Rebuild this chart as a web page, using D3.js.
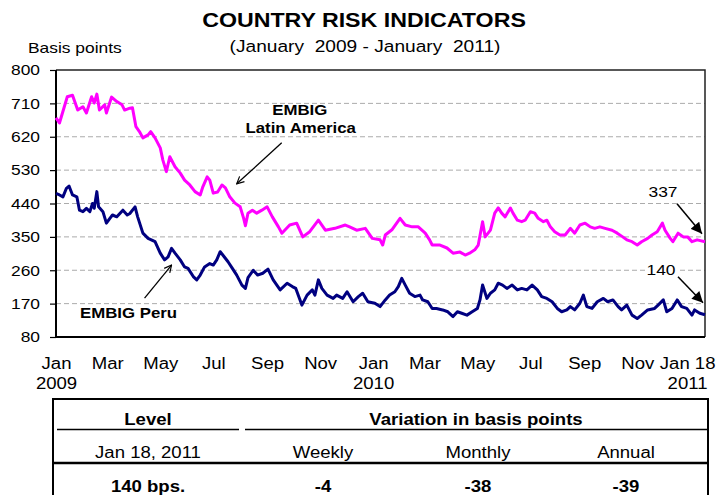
<!DOCTYPE html>
<html>
<head>
<meta charset="utf-8">
<script src="https://cdn.jsdelivr.net/npm/d3@7"></script>
<style>
  body { margin: 0; background: #fff; }
  svg { display: block; font-family: 'Liberation Sans', Arial, sans-serif; }
</style>
</head>
<body>
<div id="chart"></div>
<script>
// EMBIG Latin America (basis points)
const latamDates = [
  '2009-01-01', '2009-01-05', '2009-01-14', '2009-01-20', '2009-01-26', '2009-02-01', '2009-02-05', '2009-02-11',
  '2009-02-14', '2009-02-17', '2009-02-20', '2009-02-26', '2009-02-28', '2009-03-06', '2009-03-12', '2009-03-18',
  '2009-03-21', '2009-03-27', '2009-03-30', '2009-04-03', '2009-04-07', '2009-04-11', '2009-04-17', '2009-04-20',
  '2009-04-25', '2009-05-01', '2009-05-04', '2009-05-08', '2009-05-12', '2009-05-18', '2009-05-24', '2009-05-29',
  '2009-06-04', '2009-06-10', '2009-06-16', '2009-06-19', '2009-06-24', '2009-06-27', '2009-07-01', '2009-07-06',
  '2009-07-11', '2009-07-15', '2009-07-20', '2009-07-26', '2009-08-01', '2009-08-05', '2009-08-07', '2009-08-10',
  '2009-08-15', '2009-08-20', '2009-08-26', '2009-09-01', '2009-09-07', '2009-09-14', '2009-09-18', '2009-09-27',
  '2009-10-05', '2009-10-12', '2009-10-20', '2009-10-30', '2009-11-07', '2009-11-18', '2009-11-30', '2009-12-05',
  '2009-12-13', '2009-12-23', '2009-12-31', '2010-01-09', '2010-01-12', '2010-01-15', '2010-01-23', '2010-02-01',
  '2010-02-07', '2010-02-15', '2010-02-22', '2010-03-02', '2010-03-07', '2010-03-10', '2010-03-19', '2010-03-27',
  '2010-04-03', '2010-04-11', '2010-04-17', '2010-04-22', '2010-04-28', '2010-05-02', '2010-05-07', '2010-05-10',
  '2010-05-16', '2010-05-21', '2010-05-25', '2010-05-29', '2010-06-02', '2010-06-08', '2010-06-11', '2010-06-16',
  '2010-06-21', '2010-06-25', '2010-07-01', '2010-07-06', '2010-07-10', '2010-07-16', '2010-07-20', '2010-07-24',
  '2010-07-29', '2010-08-04', '2010-08-10', '2010-08-16', '2010-08-21', '2010-08-27', '2010-09-02', '2010-09-08',
  '2010-09-13', '2010-09-19', '2010-09-25', '2010-10-03', '2010-10-09', '2010-10-14', '2010-10-20', '2010-10-26',
  '2010-11-01', '2010-11-06', '2010-11-13', '2010-11-18', '2010-11-24', '2010-11-30', '2010-12-03', '2010-12-09',
  '2010-12-12', '2010-12-18', '2010-12-24', '2010-12-29', '2011-01-03', '2011-01-09', '2011-01-18'
];
const latamValues = [
  671, 657, 728, 732, 692, 701, 684, 728,
  711, 735, 692, 706, 684, 727, 715, 706,
  692, 697, 698, 647, 634, 617, 625, 634,
  617, 590, 557, 526, 566, 539, 522, 503,
  490, 472, 463, 485, 512, 503, 468, 471,
  490, 482, 458, 441, 431, 400, 380, 414,
  422, 414, 422, 431, 404, 377, 360, 382,
  387, 350, 364, 395, 368, 373, 382, 377,
  368, 373, 346, 342, 328, 355, 370, 400,
  382, 377, 377, 360, 342, 328, 328, 320,
  306, 309, 301, 306, 315, 328, 391, 350,
  368, 414, 428, 414, 404, 428, 414, 395,
  391, 395, 418, 414, 400, 391, 395, 377,
  364, 355, 355, 373, 360, 382, 387, 377,
  373, 377, 373, 368, 360, 352, 342, 337,
  328, 337, 346, 355, 364, 387, 368, 346,
  337, 360, 350, 350, 337, 342, 337
];

// EMBIG Peru (basis points)
const peruDates = [
  '2009-01-01', '2009-01-05', '2009-01-09', '2009-01-13', '2009-01-16', '2009-01-20', '2009-01-25', '2009-01-28',
  '2009-02-01', '2009-02-05', '2009-02-09', '2009-02-12', '2009-02-14', '2009-02-17', '2009-02-19', '2009-02-24',
  '2009-02-28', '2009-03-04', '2009-03-07', '2009-03-12', '2009-03-19', '2009-03-24', '2009-03-27', '2009-04-02',
  '2009-04-05', '2009-04-11', '2009-04-17', '2009-04-25', '2009-05-01', '2009-05-06', '2009-05-10', '2009-05-14',
  '2009-05-18', '2009-05-24', '2009-05-29', '2009-06-02', '2009-06-08', '2009-06-12', '2009-06-16', '2009-06-21',
  '2009-06-27', '2009-07-01', '2009-07-05', '2009-07-09', '2009-07-12', '2009-07-18', '2009-07-23', '2009-07-28',
  '2009-08-03', '2009-08-07', '2009-08-10', '2009-08-16', '2009-08-21', '2009-08-27', '2009-09-02', '2009-09-08',
  '2009-09-16', '2009-09-24', '2009-09-30', '2009-10-04', '2009-10-11', '2009-10-17', '2009-10-23', '2009-10-26',
  '2009-10-30', '2009-11-03', '2009-11-09', '2009-11-16', '2009-11-20', '2009-11-27', '2009-12-02', '2009-12-09',
  '2009-12-15', '2009-12-20', '2009-12-26', '2010-01-03', '2010-01-09', '2010-01-15', '2010-01-20', '2010-01-26',
  '2010-01-30', '2010-02-03', '2010-02-07', '2010-02-12', '2010-02-18', '2010-02-24', '2010-02-27', '2010-03-05',
  '2010-03-10', '2010-03-15', '2010-03-22', '2010-03-28', '2010-04-03', '2010-04-08', '2010-04-13', '2010-04-19',
  '2010-04-25', '2010-05-01', '2010-05-04', '2010-05-07', '2010-05-12', '2010-05-16', '2010-05-21', '2010-05-25',
  '2010-05-30', '2010-06-04', '2010-06-10', '2010-06-16', '2010-06-21', '2010-06-27', '2010-07-03', '2010-07-09',
  '2010-07-14', '2010-07-20', '2010-07-26', '2010-08-01', '2010-08-06', '2010-08-12', '2010-08-16', '2010-08-21',
  '2010-08-27', '2010-08-31', '2010-09-04', '2010-09-10', '2010-09-16', '2010-09-23', '2010-09-28', '2010-10-04',
  '2010-10-10', '2010-10-14', '2010-10-20', '2010-10-26', '2010-11-01', '2010-11-06', '2010-11-13', '2010-11-21',
  '2010-11-25', '2010-12-01', '2010-12-05', '2010-12-11', '2010-12-17', '2010-12-22', '2010-12-28', '2011-01-03',
  '2011-01-06', '2011-01-12', '2011-01-18'
];
const peruValues = [
  467, 463, 458, 481, 487, 463, 458, 422,
  418, 427, 418, 440, 427, 472, 431, 418,
  387, 400, 409, 404, 422, 409, 413, 431,
  404, 360, 346, 337, 306, 288, 296, 319,
  306, 288, 269, 265, 243, 234, 247, 269,
  278, 274, 288, 310, 301, 283, 265, 247,
  220, 211, 240, 260, 247, 252, 263, 234,
  207, 225, 216, 211, 166, 193, 207, 193,
  234, 211, 193, 184, 193, 184, 202, 175,
  189, 198, 175, 171, 162, 180, 193, 202,
  216, 238, 220, 198, 189, 193, 180, 175,
  157, 157, 153, 148, 135, 148, 144, 139,
  148, 157, 180, 220, 184, 198, 207, 225,
  220, 211, 220, 207, 211, 207, 220, 207,
  189, 184, 175, 157, 148, 153, 162, 153,
  171, 193, 162, 157, 175, 184, 175, 180,
  162, 153, 166, 139, 130, 139, 153, 157,
  166, 180, 148, 157, 180, 162, 157, 139,
  153, 144, 140
];

const yTicks = [80, 170, 260, 350, 440, 530, 620, 710, 800];
const xTickDates = [
  '2009-01-01', '2009-03-01', '2009-05-01', '2009-07-01', '2009-09-01', '2009-11-01', '2010-01-01',
  '2010-03-01', '2010-05-01', '2010-07-01', '2010-09-01', '2010-11-01', '2011-01-18'
];
const xTickMonths = ['Jan', 'Mar', 'May', 'Jul', 'Sep', 'Nov', 'Jan', 'Mar', 'May', 'Jul', 'Sep', 'Nov', 'Jan 18'];
const xTickYears = ['2009', '', '', '', '', '', '2010', '', '', '', '', '', '2011'];

const tableHeader = ['Level', 'Variation in basis points'];
const tableSubhead = ['Jan 18, 2011', 'Weekly', 'Monthly', 'Annual'];
const tableValues = ['140 bps.', '-4', '-38', '-39'];

const Chart = {
  init() {
    this.wrapper = document.querySelector('#chart');

    if (this.wrapper) {
      this.setVar();
      this.create();
      this.scales();
      this.axis();
      this.createPaths();
      this.createLabels();
      this.createTable();
    }
  },

  setVar() {
    // Colors
    this.pink = '#ff00ff';
    this.navy = '#000080';

    // the source image is a bit wider than tall, so text gets stretched
    this.stretch = 1.16;

    this.margin = {
      left: 56,
      right: 23,
      top: 70,
      bottom: 158,
    };

    this.svgWidth = 728;
    this.svgHeight = 495;
    this.width = this.svgWidth - this.margin.left - this.margin.right;
    this.height = this.svgHeight - this.margin.top - this.margin.bottom;

    const parse = d3.timeParse('%Y-%m-%d');
    this.latam = latamDates.map((d, i) => ({ date: parse(d), value: latamValues[i] }));
    this.peru = peruDates.map((d, i) => ({ date: parse(d), value: peruValues[i] }));
    this.tickDates = xTickDates.map(parse);
  },

  // text with the horizontal stretch of the original picture
  addText(parent, x, y, str, size, weight, anchor) {
    return parent.append('text')
      .attr('transform', `translate(${x} ${y}) scale(${this.stretch} 1)`)
      .attr('font-size', size)
      .attr('font-weight', weight || 'normal')
      .attr('text-anchor', anchor || 'middle')
      .attr('fill', '#000')
      .text(str);
  },

  stretchAxisText(sel, dx) {
    const k = this.stretch;
    sel.each(function () {
      const t = d3.select(this);
      const x = (+t.attr('x') || 0) + (dx || 0);
      const y = +t.attr('y') || 0;
      t.attr('x', null).attr('y', null)
        .attr('transform', `translate(${x} ${y}) scale(${k} 1)`);
    });
  },

  create() {
    this.svg = d3.select('#chart').append('svg')
      .attr('width', this.svgWidth)
      .attr('height', this.svgHeight);

    this.svg.append('rect')
      .attr('width', this.svgWidth)
      .attr('height', this.svgHeight)
      .attr('fill', '#fff');

    this.defs = this.svg.append('defs');

    this.defs.append('marker')
      .attr('id', 'arrow-open')
      .attr('viewBox', '0 0 10 10')
      .attr('refX', 9)
      .attr('refY', 5)
      .attr('markerWidth', 9)
      .attr('markerHeight', 9)
      .attr('markerUnits', 'userSpaceOnUse')
      .attr('orient', 'auto')
      .append('path')
      .attr('d', 'M1,1 L9,5 L1,9')
      .attr('fill', 'none')
      .attr('stroke', '#000')
      .attr('stroke-width', 1.3);

    this.defs.append('marker')
      .attr('id', 'arrow-fill')
      .attr('viewBox', '0 0 10 10')
      .attr('refX', 10)
      .attr('refY', 5)
      .attr('markerWidth', 12)
      .attr('markerHeight', 11)
      .attr('markerUnits', 'userSpaceOnUse')
      .attr('orient', 'auto')
      .append('path')
      .attr('d', 'M0,0 L10,5 L0,10 Z')
      .attr('fill', '#000');

    this.g = this.svg.append('g')
      .attr('transform', `translate(${this.margin.left} ${this.margin.top})`);

    // Titles
    this.addText(this.svg, 364, 27, 'COUNTRY RISK INDICATORS', 20, 'bold');
    this.addText(this.svg, 365, 52, '(January  2009 - January  2011)', 16.5)
      .attr('xml:space', 'preserve')
      .style('white-space', 'pre');
    this.addText(this.svg, 28, 53, 'Basis points', 15, 'normal', 'start');
  },

  scales() {
    this.y = d3.scaleLinear()
      .domain([80, 800])
      .range([this.height, 0]);

    this.x = d3.scaleTime()
      .domain([this.tickDates[0], this.tickDates[this.tickDates.length - 1]])
      .range([0, this.width]);
  },

  axis() {
    // Grid
    this.g.append('g')
      .selectAll('line')
      .data(yTicks.slice(1, -1))
      .join('line')
      .attr('x1', 0)
      .attr('x2', this.width)
      .attr('y1', (d) => this.y(d))
      .attr('y2', (d) => this.y(d))
      .attr('stroke', '#ababab')
      .attr('stroke-width', 1)
      .attr('stroke-dasharray', '5 3');

    // Frame top and right
    this.g.append('path')
      .attr('d', `M0,${this.y(800)}H${this.width}V${this.height}`)
      .attr('fill', 'none')
      .attr('stroke', '#222')
      .attr('stroke-width', 1.5);

    this.ay = d3.axisLeft(this.y)
      .tickValues(yTicks)
      .tickSize(6)
      .tickPadding(10);
    this.ayCall = this.g.append('g').call(this.ay);
    this.ayCall.select('.domain').remove();
    this.ayCall.selectAll('line').attr('stroke', '#000').attr('stroke-width', 1.2);
    this.ayCall.selectAll('text')
      .attr('font-size', 15)
      .attr('font-family', null)
      .attr('fill', '#000');
    this.stretchAxisText(this.ayCall.selectAll('text'));

    const last = xTickMonths.length - 1;
    this.ax = d3.axisBottom(this.x)
      .tickValues(this.tickDates)
      .tickSize(0)
      .tickPadding(21)
      .tickFormat((d, i) => xTickMonths[i]);
    this.axCall = this.g.append('g')
      .attr('transform', `translate(0 ${this.height})`)
      .call(this.ax);
    this.axCall.select('.domain').remove();
    this.axCall.selectAll('.tick text')
      .attr('font-size', 16)
      .attr('fill', '#000')
      .attr('text-anchor', (d, i) => (i === last ? 'end' : 'middle'))
      .attr('x', (d, i) => (i === last ? 10 : 0));
    this.stretchAxisText(this.axCall.selectAll('.tick text'));

    this.axCall.selectAll('.tick')
      .append('text')
      .attr('class', 'year')
      .attr('x', (d, i) => (i === last ? 2 : 0))
      .attr('y', 52)
      .attr('font-size', 16)
      .attr('fill', '#000')
      .attr('text-anchor', (d, i) => (i === last ? 'end' : 'middle'))
      .text((d, i) => xTickYears[i]);
    this.stretchAxisText(this.axCall.selectAll('.year'));
    this.axCall.attr('font-family', null);

    // Left and bottom axis lines
    this.g.append('path')
      .attr('d', `M0,0V${this.height}H${this.width}`)
      .attr('fill', 'none')
      .attr('stroke', '#000')
      .attr('stroke-width', 2);
  },

  createPaths() {
    this.line = d3.line()
      .x((d) => this.x(d.date))
      .y((d) => this.y(d.value))
      .curve(d3.curveLinear);

    this.g.append('path')
      .attr('class', 'path-latam')
      .attr('d', this.line(this.latam))
      .attr('fill', 'none')
      .attr('stroke', this.pink)
      .attr('stroke-width', 3)
      .attr('stroke-linejoin', 'round');

    this.g.append('path')
      .attr('class', 'path-peru')
      .attr('d', this.line(this.peru))
      .attr('fill', 'none')
      .attr('stroke', this.navy)
      .attr('stroke-width', 3)
      .attr('stroke-linejoin', 'round');
  },

  arrow(x1, y1, x2, y2, marker, width) {
    this.g.append('line')
      .attr('x1', x1)
      .attr('y1', y1)
      .attr('x2', x2)
      .attr('y2', y2)
      .attr('stroke', '#000')
      .attr('stroke-width', width)
      .attr('marker-end', `url(#${marker})`);
  },

  createLabels() {
    const parse = d3.timeParse('%Y-%m-%d');

    // EMBIG Latin America
    let tx = this.x(parse('2009-07-28'));
    let ty = this.y(493);
    this.arrow(tx + 45, ty - 41, tx, ty, 'arrow-open', 1.3);
    this.addText(this.g, tx + 63, ty - 69, 'EMBIG', 14.5, 'bold');
    this.addText(this.g, tx + 64, ty - 51, 'Latin America', 14.5, 'bold');

    // EMBIG Peru
    tx = this.x(parse('2009-05-14'));
    ty = this.y(274);
    this.arrow(tx - 27, ty + 33, tx, ty, 'arrow-open', 1.3);
    this.addText(this.g, tx - 43, ty + 53, 'EMBIG Peru', 14.5, 'bold');

    // Last values
    const lastLatam = this.latam[this.latam.length - 1];
    tx = this.x(lastLatam.date) - 3;
    ty = this.y(lastLatam.value) - 8;
    this.arrow(tx - 25, ty - 30, tx, ty, 'arrow-fill', 1.5);
    this.addText(this.g, tx - 39, ty - 37, String(lastLatam.value), 15);

    const lastPeru = this.peru[this.peru.length - 1];
    tx = this.x(lastPeru.date) - 2;
    ty = this.y(lastPeru.value) - 12;
    this.g.append('rect')
      .attr('x', tx - 58)
      .attr('y', ty - 40)
      .attr('width', 32)
      .attr('height', 15)
      .attr('fill', '#fff');
    this.arrow(tx - 25, ty - 26, tx, ty, 'arrow-fill', 1.5);
    this.addText(this.g, tx - 42, ty - 28, String(lastPeru.value), 15);
  },

  createTable() {
    const t = this.svg.append('g').attr('class', 'table');
    const left = 53;
    const right = 708;

    t.append('path')
      .attr('d', `M${left},${this.svgHeight}V399H${right}V${this.svgHeight}`)
      .attr('fill', 'none')
      .attr('stroke', '#000')
      .attr('stroke-width', 2);

    t.append('line')
      .attr('x1', 57).attr('x2', 239)
      .attr('y1', 429.5).attr('y2', 429.5)
      .attr('stroke', '#000').attr('stroke-width', 1.6);
    t.append('line')
      .attr('x1', 245).attr('x2', right)
      .attr('y1', 429.5).attr('y2', 429.5)
      .attr('stroke', '#000').attr('stroke-width', 1.6);
    t.append('line')
      .attr('x1', left).attr('x2', right)
      .attr('y1', 463).attr('y2', 463)
      .attr('stroke', '#000').attr('stroke-width', 2.5);

    const cols = [148, 323, 478, 626];

    this.addText(t, 148, 425, tableHeader[0], 16, 'bold');
    this.addText(t, 476, 425, tableHeader[1], 16, 'bold');

    tableSubhead.forEach((d, i) => {
      this.addText(t, cols[i], 458, d, 16);
    });
    tableValues.forEach((d, i) => {
      this.addText(t, cols[i], 492, d, 16, 'bold');
    });
  },
};

Chart.init();
</script>
</body>
</html>
